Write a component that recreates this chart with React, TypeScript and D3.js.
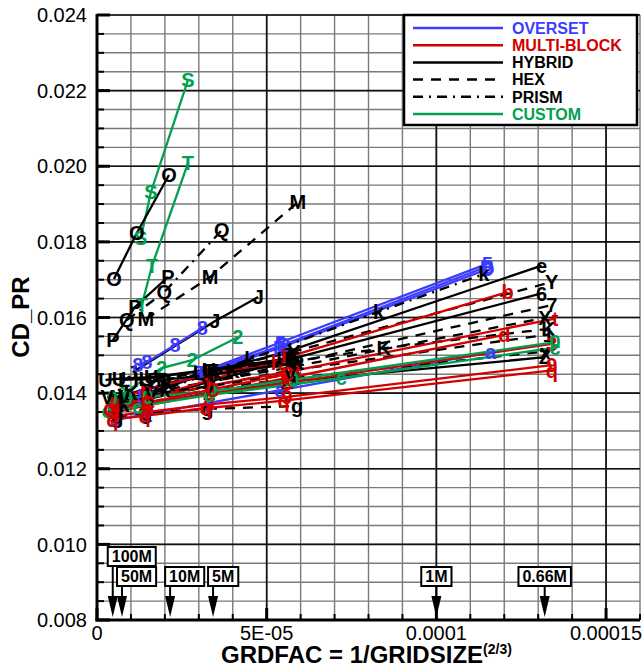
import React from "react";
import * as d3 from "d3";

const W = 643;
const H = 670;

// ---------- data ----------
const legendNames = ["OVERSET", "MULTI-BLOCK", "HYBRID", "HEX", "PRISM", "CUSTOM"];
const xTickValues = [0, 5e-5, 1e-4, 1.5e-4];
const xTickLabels = ["0", "5E-05", "0.0001", "0.00015"];
const yTickValues = [0.008, 0.01, 0.012, 0.014, 0.016, 0.018, 0.02, 0.022, 0.024];
const yTickLabels = ["0.008", "0.010", "0.012", "0.014", "0.016", "0.018", "0.020", "0.022", "0.024"];
const gridSizeLabels = ["100M", "50M", "10M", "5M", "1M", "0.66M"];
const gridSizeCells = [100e6, 50e6, 10e6, 5e6, 1e6, 0.66e6];

const seriesLabels = [
  "S", "T", "O", "P", "Q", "M", "J", "8", "2",
  "5", "B", "D", "a", "k",
  "e", "6", "Y", "7", "X", "K", "1", "x", "Z", "g",
  "b", "t", "d", "3", "9", "q", "h",
  "0", "c",
  "U", "L", "F", "R", "V", "I", "C",
];
const seriesTypes = [
  "CUSTOM", "CUSTOM", "HYBRID", "HYBRID", "PRISM", "HEX", "HYBRID", "OVERSET", "CUSTOM",
  "OVERSET", "OVERSET", "OVERSET", "OVERSET", "PRISM",
  "HYBRID", "HYBRID", "HEX", "HEX", "HEX", "HEX", "HEX", "HEX", "HYBRID", "HEX",
  "MULTI-BLOCK", "MULTI-BLOCK", "MULTI-BLOCK", "MULTI-BLOCK", "MULTI-BLOCK", "MULTI-BLOCK", "MULTI-BLOCK",
  "CUSTOM", "CUSTOM",
  "HYBRID", "HEX", "PRISM", "HYBRID", "HEX", "HYBRID", "MULTI-BLOCK",
];
const seriesX = [
  [1.29e-5, 1.59e-5, 2.68e-5],
  [1.32e-5, 1.62e-5, 2.68e-5],
  [0.5e-5, 1.17e-5, 2.12e-5],
  [0.47e-5, 1.12e-5, 2.09e-5],
  [0.88e-5, 1.98e-5, 3.68e-5],
  [1.44e-5, 3.33e-5, 5.92e-5],
  [1.05e-5, 3.47e-5, 4.75e-5],
  [1.2e-5, 1.47e-5, 2.3e-5, 3.1e-5],
  [0.75e-5, 1.9e-5, 2.8e-5, 4.15e-5],
  [0.55e-5, 1.5e-5, 3.0e-5, 5.4e-5, 11.5e-5],
  [0.5e-5, 1.4e-5, 3.3e-5, 5.5e-5, 11.5e-5],
  [0.6e-5, 1.5e-5, 3.2e-5, 5.4e-5, 11.5e-5],
  [0.55e-5, 1.45e-5, 3.3e-5, 5.4e-5, 11.6e-5],
  [0.8e-5, 2.0e-5, 4.5e-5, 8.3e-5, 11.4e-5],
  [0.55e-5, 1.5e-5, 3.3e-5, 5.6e-5, 13.1e-5],
  [0.6e-5, 1.5e-5, 3.3e-5, 5.7e-5, 13.1e-5],
  [0.6e-5, 1.5e-5, 3.4e-5, 5.8e-5, 13.4e-5],
  [0.6e-5, 1.5e-5, 3.4e-5, 5.8e-5, 13.4e-5],
  [0.6e-5, 1.5e-5, 3.3e-5, 5.8e-5, 13.2e-5],
  [1.0e-5, 2.1e-5, 4.0e-5, 8.45e-5, 13.3e-5],
  [0.6e-5, 1.5e-5, 3.4e-5, 5.7e-5, 13.3e-5],
  [0.6e-5, 1.5e-5, 3.3e-5, 5.8e-5, 13.2e-5],
  [0.5e-5, 1.4e-5, 3.3e-5, 5.6e-5, 13.2e-5],
  [0.6e-5, 1.45e-5, 3.25e-5, 5.9e-5],
  [0.5e-5, 1.45e-5, 3.3e-5, 5.6e-5, 12.1e-5],
  [0.5e-5, 1.45e-5, 3.3e-5, 5.9e-5, 13.5e-5],
  [0.5e-5, 1.45e-5, 3.3e-5, 5.6e-5, 12.0e-5],
  [0.5e-5, 1.45e-5, 3.3e-5, 5.6e-5, 13.4e-5],
  [0.5e-5, 1.45e-5, 3.3e-5, 5.6e-5, 13.4e-5],
  [0.45e-5, 1.4e-5, 3.2e-5, 5.5e-5, 13.4e-5],
  [0.5e-5, 1.45e-5, 3.3e-5, 5.3e-5],
  [0.45e-5, 0.9e-5, 1.5e-5, 3.4e-5, 5.8e-5, 13.5e-5],
  [0.3e-5, 1.2e-5, 3.3e-5, 7.2e-5, 13.5e-5],
  [0.25e-5, 0.65e-5, 1.6e-5, 3.3e-5, 5.5e-5],
  [0.8e-5, 1.4e-5, 3.0e-5, 5.7e-5],
  [1.65e-5, 3.4e-5, 5.8e-5],
  [1.95e-5, 3.5e-5, 5.9e-5],
  [0.3e-5, 0.8e-5, 1.6e-5, 3.3e-5, 5.7e-5],
  [1.15e-5, 3.2e-5, 5.8e-5],
  [0.4e-5, 1.5e-5, 3.4e-5, 5.6e-5],
];
const seriesY = [
  [0.0181, 0.01932, 0.02228],
  [0.01633, 0.01736, 0.02008],
  [0.01702, 0.01823, 0.01977],
  [0.0154, 0.01628, 0.01707],
  [0.01593, 0.01667, 0.01831],
  [0.01596, 0.01707, 0.01905],
  [0.01455, 0.0159, 0.01654],
  [0.01474, 0.01482, 0.01527, 0.01572],
  [0.01398, 0.01466, 0.01487, 0.01548],
  [0.0137, 0.014, 0.01453, 0.01534, 0.01742],
  [0.0136, 0.01392, 0.0146, 0.01528, 0.01735],
  [0.01365, 0.01395, 0.01452, 0.0152, 0.01728],
  [0.0133, 0.01344, 0.01374, 0.01408, 0.01508],
  [0.01368, 0.0141, 0.0149, 0.01615, 0.01715],
  [0.0137, 0.014, 0.01455, 0.0151, 0.01737],
  [0.0136, 0.01385, 0.0143, 0.0149, 0.01664],
  [0.0139, 0.0141, 0.0146, 0.0151, 0.01694],
  [0.0137, 0.0139, 0.0143, 0.0148, 0.01633],
  [0.0138, 0.014, 0.0143, 0.0147, 0.01599],
  [0.014, 0.01425, 0.0146, 0.01519, 0.0157],
  [0.0137, 0.01385, 0.0142, 0.0146, 0.01555],
  [0.0136, 0.01375, 0.0141, 0.0144, 0.0151],
  [0.0135, 0.0137, 0.014, 0.0143, 0.01495],
  [0.01338, 0.01348, 0.01358, 0.01366],
  [0.0136, 0.01385, 0.01434, 0.01495, 0.01667],
  [0.0137, 0.01387, 0.01419, 0.01461, 0.01597],
  [0.0135, 0.01367, 0.01399, 0.0144, 0.01554],
  [0.0136, 0.01373, 0.01397, 0.01427, 0.0153],
  [0.0134, 0.0135, 0.0137, 0.0139, 0.01474],
  [0.0133, 0.0134, 0.0136, 0.0138, 0.0146],
  [0.0138, 0.0141, 0.0145, 0.0148],
  [0.01387, 0.01388, 0.0139, 0.01405, 0.01436, 0.01535],
  [0.01352, 0.01365, 0.01395, 0.0144, 0.0152],
  [0.01435, 0.01438, 0.01442, 0.01462, 0.0149],
  [0.01435, 0.01438, 0.01455, 0.01485],
  [0.01435, 0.01458, 0.0149],
  [0.01435, 0.0145, 0.0148],
  [0.0139, 0.01393, 0.01398, 0.01418, 0.0145],
  [0.01435, 0.0146, 0.01488],
  [0.01355, 0.01375, 0.0141, 0.0145],
];

// ---------- styles ----------
const typeColor: Record<string, string> = {
  OVERSET: "#3c3cff",
  "MULTI-BLOCK": "#d20000",
  HYBRID: "#000000",
  HEX: "#000000",
  PRISM: "#000000",
  CUSTOM: "#00a050",
};
const typeDash: Record<string, string | undefined> = {
  HEX: "10,8",
  PRISM: "10,6,2,6",
};

const FONT = "Arial, 'Liberation Sans', Helvetica, sans-serif";
const charW: Record<string, number> = { M: 0.833, ".": 0.278 };
const boldWidth = (s: string, size: number) =>
  s.split("").reduce((a, c) => a + (charW[c] ?? 0.556), 0) * size;

export default function App() {
  const left = 97, right = 640, top = 15, bottom = 620;
  const x = d3.scaleLinear().domain([0, 0.00016]).range([left, right]);
  const y = d3.scaleLinear().domain([0.008, 0.024]).range([bottom, top]);

  const minorX = d3.range(0, 17).map((i) => i * 1e-5);
  const minorY = d3.range(0, 33).map((i) => 0.008 + i * 0.0005);
  const majorX = [0, 5e-5, 1e-4, 1.5e-4];

  const line = d3
    .line<[number, number]>()
    .x((d) => x(d[0]))
    .y((d) => y(d[1]));

  const series = seriesLabels.map((lab, i) => ({
    label: lab,
    type: seriesTypes[i],
    pts: seriesX[i].map((v, j) => [v, seriesY[i][j]] as [number, number]),
  }));

  return (
    <svg
      width={W}
      height={H}
      style={{ position: "absolute", left: 0, top: 0, background: "#fff" }}
      fontFamily={FONT}
    >
      <rect x={0} y={0} width={W} height={H} fill="#fff" />
      {/* minor grid */}
      {minorX.map((v, i) => (
        <line key={"mx" + i} x1={x(v)} x2={x(v)} y1={top} y2={bottom} stroke="#7a7a7a" strokeWidth={1.4} />
      ))}
      {minorY.map((v, i) => (
        <line key={"my" + i} x1={left} x2={right} y1={y(v)} y2={y(v)} stroke="#7a7a7a" strokeWidth={1.4} />
      ))}
      {/* major grid */}
      {majorX.map((v, i) => (
        <line key={"Mx" + i} x1={x(v)} x2={x(v)} y1={top} y2={bottom} stroke="#111" strokeWidth={1.7} />
      ))}
      {yTickValues.map((v, i) => (
        <line key={"My" + i} x1={left} x2={right} y1={y(v)} y2={y(v)} stroke="#111" strokeWidth={1.7} />
      ))}

      {/* axes */}
      <line x1={left} x2={left} y1={top - 1} y2={bottom + 1.5} stroke="#000" strokeWidth={3} />
      <line x1={left - 1.5} x2={right} y1={bottom} y2={bottom} stroke="#000" strokeWidth={3} />
      {minorY.map((v, i) => (
        <line key={"ty" + i} x1={left} x2={left + 7} y1={y(v)} y2={y(v)} stroke="#000" strokeWidth={2} />
      ))}
      {yTickValues.map((v, i) => (
        <line key={"tY" + i} x1={left} x2={left + 13} y1={y(v)} y2={y(v)} stroke="#000" strokeWidth={3} />
      ))}
      {minorX.map((v, i) => (
        <line key={"tx" + i} x1={x(v)} x2={x(v)} y1={bottom} y2={bottom - 6} stroke="#000" strokeWidth={2} />
      ))}
      {majorX.map((v, i) => (
        <line key={"tX" + i} x1={x(v)} x2={x(v)} y1={bottom} y2={bottom - 12} stroke="#000" strokeWidth={3} />
      ))}

      {/* tick labels */}
      {yTickValues.map((v, i) => (
        <text key={"yl" + i} x={87} y={y(v)} dy="0.36em" textAnchor="end" fontSize={20}>
          {yTickLabels[i]}
        </text>
      ))}
      {xTickValues.map((v, i) => (
        <text key={"xl" + i} x={x(v)} y={640} textAnchor="middle" fontSize={20}>
          {xTickLabels[i]}
        </text>
      ))}

      {/* axis titles */}
      <text x={221} y={663} fontSize={24} fontWeight="bold">
        GRDFAC = 1/GRIDSIZE
        <tspan fontSize={14} dy={-9}>(2/3)</tspan>
      </text>
      <text transform={`translate(29,317) rotate(-90)`} textAnchor="middle" fontSize={24} fontWeight="bold">
        CD_PR
      </text>

      {/* series lines */}
      {series.map((s, i) => (
        <path
          key={"l" + i}
          d={line(s.pts) || ""}
          fill="none"
          stroke={typeColor[s.type]}
          strokeWidth={2.3}
          strokeDasharray={typeDash[s.type]}
        />
      ))}
      {/* series symbols */}
      {series.map((s, i) =>
        s.pts.map((p, j) => (
          <text
            key={"s" + i + "_" + j}
            x={x(p[0])}
            y={y(p[1])}
            dy="0.36em"
            textAnchor="middle"
            fontSize={20}
            fontWeight="bold"
            fill={typeColor[s.type]}
          >
            {s.label}
          </text>
        ))
      )}

      {/* grid size markers */}
      {gridSizeLabels.map((lab, i) => {
        const ax = x(Math.pow(gridSizeCells[i], -2 / 3));
        const bw = boldWidth(lab, 16) + 8;
        const bx = i < 4 ? ax - 5 : ax - bw / 2;
        const by = i === 0 ? 547 : 567;
        const bh = 19;
        return (
          <g key={"g" + i}>
            <line x1={ax} x2={ax} y1={by + bh} y2={598} stroke="#000" strokeWidth={2} />
            <path d={`M${ax - 5},596 L${ax + 5},596 L${ax},617 Z`} fill="#000" />
            <rect x={bx} y={by} width={bw} height={bh} fill="#fff" stroke="#000" strokeWidth={2} />
            <text x={bx + bw / 2} y={by + bh / 2} dy="0.36em" textAnchor="middle" fontSize={16} fontWeight="bold">
              {lab}
            </text>
          </g>
        );
      })}

      {/* legend */}
      <g>
        <rect x={404} y={15} width={233} height={110} fill="#fff" stroke="#000" strokeWidth={2.5} />
        {legendNames.map((n, i) => {
          const ly = 28 + i * 17.2;
          return (
            <g key={"lg" + i}>
              <line
                x1={413}
                x2={503}
                y1={ly}
                y2={ly}
                stroke={typeColor[n]}
                strokeWidth={2.5}
                strokeDasharray={typeDash[n]}
              />
              <text
                x={512}
                y={ly}
                dy="0.36em"
                fontSize={16}
                fontWeight="bold"
                fill={n === "HEX" || n === "PRISM" || n === "HYBRID" ? "#000" : typeColor[n]}
              >
                {n}
              </text>
            </g>
          );
        })}
      </g>
    </svg>
  );
}
